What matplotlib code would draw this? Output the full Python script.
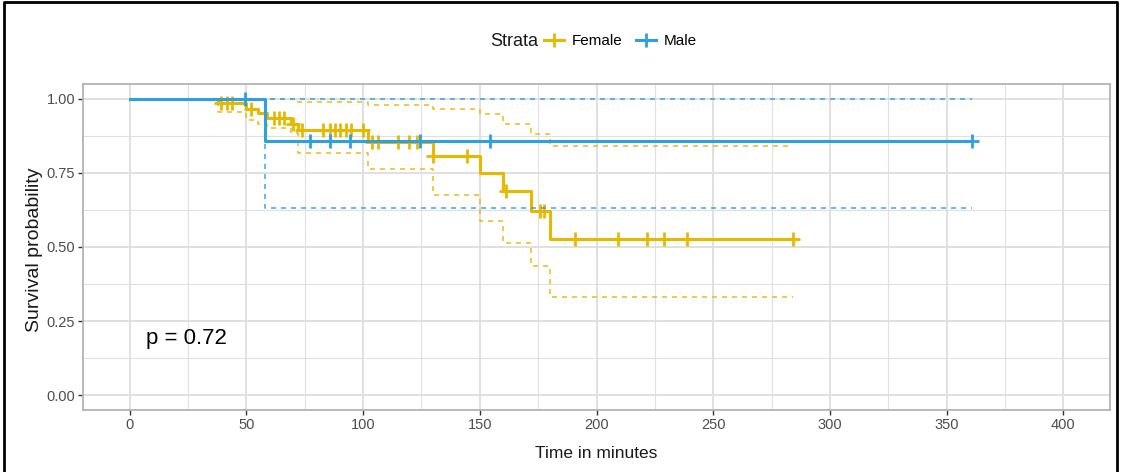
import numpy as np
import matplotlib
matplotlib.use("Agg")
import matplotlib.pyplot as plt
from matplotlib.lines import Line2D

# Kaplan-Meier curves
female_times = [0, 38, 50, 55, 59, 69, 72, 102, 130, 150, 160, 172, 180]
female_surv = [1.0, 0.985, 0.967, 0.953, 0.934, 0.914, 0.895, 0.855, 0.806, 0.75, 0.69, 0.62, 0.528]
female_lower = [1.0, 0.955, 0.93, 0.915, 0.90, 0.886, 0.818, 0.763, 0.676, 0.589, 0.512, 0.435, 0.331]
female_upper = [1.0, 1.0, 1.0, 1.0, 1.0, 1.0, 0.99, 0.98, 0.966, 0.95, 0.916, 0.88, 0.84]
female_censor = [39, 41.5, 44, 52, 62, 64, 66, 70, 74, 83, 86, 88, 90, 92.5, 95, 100,
                 104, 106.5, 115, 119.5, 123, 130, 144.6, 161.3, 176, 177.5,
                 191, 209, 221.6, 229, 238.8, 284]
female_end = 284

male_times = [0, 58]
male_surv = [1.0, 0.857]
male_lower = [1.0, 0.633]
male_upper = [1.0, 1.0]
male_censor = [49.6, 77.4, 86, 94.6, 124.5, 154.5, 361]
male_end = 361

groups = ["Female", "Male"]
p_label = "p = 0.72"

plt.rcParams['font.family'] = ['Liberation Sans', 'DejaVu Sans']

yellow = '#E7B800'
blue = '#2E9FDF'
grid_c = '#E0E0E0'

fig = plt.figure(figsize=(11.21, 4.72), dpi=100)
ax = fig.add_axes([83/1121, 1-410/472, (1110-83)/1121, (410-84)/472])


def draw_group(times, surv, lower, upper, censor, end, color, z):
    t = np.array(times + [end])
    # confidence band as dashed steps, then the curve itself
    for vals in (lower, upper):
        v = np.array(vals + [vals[-1]])
        ax.step(t, v, where='post', color=color, lw=1.2, linestyle=(0, (3, 3)),
                alpha=0.85, zorder=z)
    v = np.array(surv + [surv[-1]])
    ax.step(t, v, where='post', color=color, lw=2.2, zorder=z)
    idx = np.searchsorted(times, censor, side='right') - 1
    ax.plot(censor, np.array(surv)[idx], linestyle='none', marker='+', color=color,
            markersize=10, mew=2, zorder=z + 0.5)


draw_group(female_times, female_surv, female_lower, female_upper, female_censor, female_end, yellow, 3)
draw_group(male_times, male_surv, male_lower, male_upper, male_censor, male_end, blue, 4)

ax.set_xlim(-20, 420)
ax.set_ylim(-0.05, 1.05)
ax.set_xticks(range(0, 401, 50))
ax.set_xticks(range(25, 400, 50), minor=True)
ax.set_yticks([0, 0.25, 0.5, 0.75, 1.0])
ax.set_yticks([0.125, 0.375, 0.625, 0.875], minor=True)
ax.set_yticklabels(['0.00', '0.25', '0.50', '0.75', '1.00'])
ax.grid(which='major', color=grid_c, lw=1.4, zorder=0)
ax.grid(which='minor', color=grid_c, lw=0.8, zorder=0)
ax.set_axisbelow(True)
ax.tick_params(which='major', length=3.5, width=1, color='#333333', labelcolor='#4D4D4D',
               labelsize=10.5, pad=2)
ax.tick_params(which='minor', length=0)
for s in ax.spines.values():
    s.set_color('#B3B3B3')
    s.set_linewidth(1.3)

ax.text(7, 0.19, p_label, fontsize=16, va='center', ha='left', color='black')

fig.text(35/1121, 1-250/472, "Survival probability", rotation=90, ha='center', va='center',
         fontsize=14, color='#1A1A1A')
fig.text(596/1121, 1-453/472, "Time in minutes", ha='center', va='center',
         fontsize=12.5, color='#1A1A1A')

# legend on top
fig.text(514/1121, 1-41/472, "Strata", ha='center', va='center', fontsize=13, color='#1A1A1A')
handles = [Line2D([], [], color=yellow, marker='+', markersize=10, mew=2, lw=2.2),
           Line2D([], [], color=blue, marker='+', markersize=10, mew=2, lw=2.2)]
fig.legend(handles, groups, loc='center left', bbox_to_anchor=(544/1121, 1-41/472),
           ncol=2, frameon=False, handlelength=1.3, handletextpad=0.5, columnspacing=0.9,
           prop={'size': 11}, borderaxespad=0, borderpad=0)

# black frame around the picture
fig.add_artist(Line2D([4/1121, 4/1121, 1117/1121, 1117/1121], [0, 1-2/472, 1-2/472, 0],
                      transform=fig.transFigure, color='black', lw=2))

fig.savefig("out.png", dpi=100)
